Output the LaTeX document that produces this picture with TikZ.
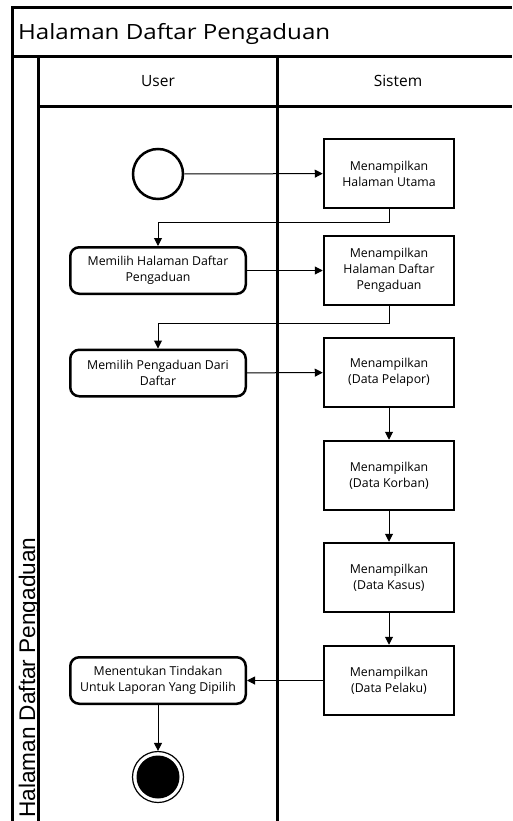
\documentclass[tikz,border=0pt]{standalone}
\usepackage{fontspec}
\usepackage{graphicx}
\setmainfont{Open Sans}
\newfontfamily\poolfont{Liberation Sans}
\usetikzlibrary{arrows.meta}

\begin{document}
\begin{tikzpicture}[x=1pt,y=-1pt,
  lane/.style={line width=3pt},
  sysbox/.style={draw,line width=2.5pt,minimum width=130pt,minimum height=69pt,
    inner sep=0pt,align=center,font=\fontsize{12.3}{16}\selectfont},
  useract/.style={draw,line width=2.5pt,rounded corners=9pt,minimum width=175.5pt,
    minimum height=46.5pt,inner sep=0pt,align=center,font=\fontsize{12.3}{16}\selectfont},
  flow/.style={line width=1pt,-{Triangle[length=8pt,width=8pt]}},
  lanehead/.style={font=\fontsize{15.5}{18}\selectfont,anchor=base,inner sep=0pt},
]
\useasboundingbox (0,0) rectangle (512,821);

% swimlane frame
\draw[lane] (12,821) -- (12,8) -- (512,8);
\draw[lane] (12,57) -- (512,57);
\draw[lane] (38,821) -- (38,57);
\draw[lane] (38,107) -- (512,107);
\draw[lane] (277,57) -- (277,821);

% pool and lane titles
\node[anchor=base west,inner sep=0pt,font=\fontsize{21}{24}\selectfont] (title) at (18,40)
  {\resizebox{312pt}{\height}{Halaman Daftar Pengaduan}};
\node[lanehead] (userhead) at (158,87) {User};
\node[lanehead] (syshead) at (398,87) {Sistem};
\node[rotate=90,anchor=base west,inner sep=0pt,font=\poolfont\fontsize{22.6}{26}\selectfont]
  (pooltitle) at (35,818) {Halaman Daftar Pengaduan};

% activities
\node[circle,draw,line width=2.5pt,minimum size=50pt,inner sep=0pt] (start) at (158,174) {};
\node[sysbox] (s1) at (389,173.5) {Menampilkan\\Halaman Utama};
\node[useract] (u1) at (158,270.5) {Memilih Halaman Daftar\\Pengaduan};
\node[sysbox] (s2) at (389,270.5) {Menampilkan\\Halaman Daftar\\Pengaduan};
\node[useract] (u2) at (158,373) {Memilih Pengaduan Dari\\Daftar};
\node[sysbox] (s3) at (389,372.5) {Menampilkan\\(Data Pelapor)};
\node[sysbox] (s4) at (389,475.5) {Menampilkan\\(Data Korban)};
\node[sysbox] (s5) at (389,577.5) {Menampilkan\\(Data Kasus)};
\node[sysbox] (s6) at (389,680.5) {Menampilkan\\(Data Pelaku)};
\node[useract] (u3) at (158,680.5) {Menentukan Tindakan\\Untuk Laporan Yang Dipilih};
\node[circle,draw,line width=1.2pt,minimum size=51pt,inner sep=0pt] (end) at (158,777) {};
\node[circle,fill=black,minimum size=43pt,inner sep=0pt] (endcore) at (end.center) {};

% control flow
\draw[flow] (start) -- (s1);
\draw[flow] (s1.south) -- ++(0,13) -| (u1.north);
\draw[flow] (u1) -- (s2);
\draw[flow] (s2.south) -- ++(0,17) -| (u2.north);
\draw[flow] (u2) -- (s3);
\draw[flow] (s3) -- (s4);
\draw[flow] (s4) -- (s5);
\draw[flow] (s5) -- (s6);
\draw[flow] (s6) -- (u3);
\draw[flow] (u3) -- (end);
\end{tikzpicture}
\end{document}
